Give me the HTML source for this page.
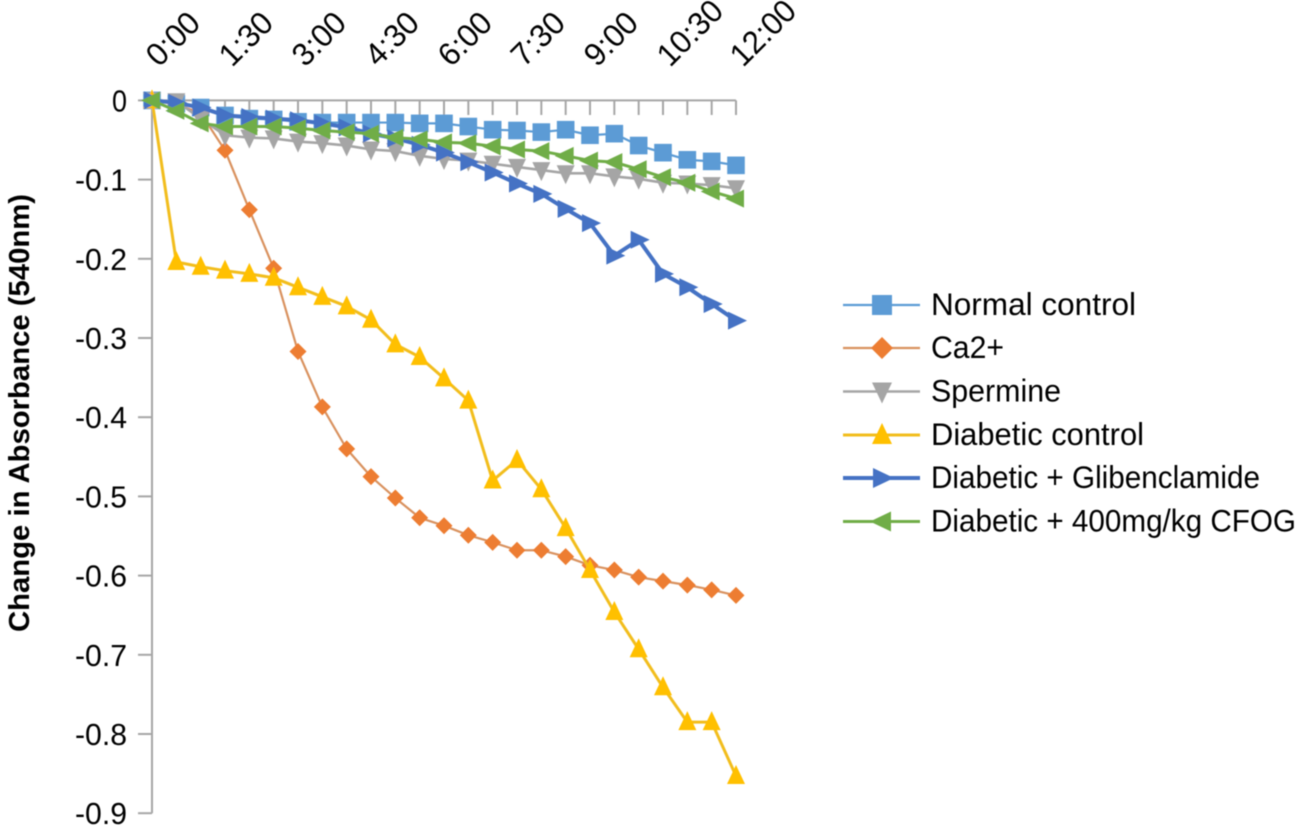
<!DOCTYPE html>
<html lang="en">
<head>
<meta charset="utf-8">
<title>Change in Absorbance chart</title>
<style>
html,body{margin:0;padding:0;background:#fff;width:1295px;height:827px;overflow:hidden}
svg{display:block;font-family:"Liberation Sans",sans-serif}
</style>
</head>
<body>
<svg id="chart" xmlns="http://www.w3.org/2000/svg" width="1295" height="827" viewBox="0 0 1295 827">
  <defs><filter id="soft" x="-5%" y="-5%" width="110%" height="110%"><feGaussianBlur stdDeviation="0.45"/></filter></defs>
  <rect x="0" y="0" width="1295" height="827" fill="#ffffff"/>
  <g id="root" filter="url(#soft)">
    <text transform="translate(29,413) rotate(-90)" text-anchor="middle" font-size="29" font-weight="bold" fill="#000" textLength="438" lengthAdjust="spacingAndGlyphs">Change in Absorbance (540nm)</text>
  </g>
</svg>
<script>
const categories = ["0:00","0:30","1:00","1:30","2:00","2:30","3:00","3:30","4:00","4:30","5:00","5:30","6:00","6:30","7:00","7:30","8:00","8:30","9:00","9:30","10:00","10:30","11:00","11:30","12:00"];
const xTickLabels = ["0:00","1:30","3:00","4:30","6:00","7:30","9:00","10:30","12:00"];
const yTickValues = [0,-0.1,-0.2,-0.3,-0.4,-0.5,-0.6,-0.7,-0.8,-0.9];
const yTickLabels = ["0","-0.1","-0.2","-0.3","-0.4","-0.5","-0.6","-0.7","-0.8","-0.9"];
const normalControl = [0,-0.004,-0.009,-0.019,-0.023,-0.024,-0.027,-0.028,-0.028,-0.028,-0.028,-0.029,-0.029,-0.033,-0.037,-0.038,-0.04,-0.037,-0.044,-0.042,-0.057,-0.066,-0.075,-0.077,-0.082];
const ca2 = [0,-0.005,-0.016,-0.063,-0.138,-0.212,-0.317,-0.387,-0.44,-0.475,-0.502,-0.527,-0.537,-0.549,-0.558,-0.568,-0.568,-0.576,-0.587,-0.593,-0.602,-0.607,-0.612,-0.618,-0.625];
const spermine = [0,-0.001,-0.023,-0.044,-0.047,-0.048,-0.052,-0.054,-0.057,-0.062,-0.064,-0.07,-0.074,-0.076,-0.08,-0.084,-0.088,-0.092,-0.092,-0.096,-0.099,-0.104,-0.105,-0.107,-0.111];
const diabeticControl = [0,-0.204,-0.21,-0.215,-0.219,-0.224,-0.236,-0.248,-0.26,-0.277,-0.308,-0.324,-0.351,-0.379,-0.48,-0.454,-0.491,-0.54,-0.593,-0.646,-0.693,-0.741,-0.785,-0.785,-0.853];
const glibenclamide = [0,-0.003,-0.009,-0.019,-0.021,-0.023,-0.025,-0.029,-0.034,-0.042,-0.048,-0.056,-0.066,-0.078,-0.091,-0.105,-0.118,-0.137,-0.155,-0.196,-0.176,-0.219,-0.236,-0.257,-0.278];
const cfog = [0,-0.013,-0.029,-0.033,-0.033,-0.033,-0.035,-0.038,-0.04,-0.042,-0.047,-0.049,-0.053,-0.054,-0.058,-0.062,-0.064,-0.07,-0.076,-0.078,-0.087,-0.097,-0.104,-0.115,-0.124];
const seriesNames = ["Normal control","Ca2+","Spermine","Diabetic control","Diabetic + Glibenclamide","Diabetic + 400mg/kg CFOG"];

const NS = "http://www.w3.org/2000/svg";
const root = document.getElementById("root");
const plot = {left:152, right:736, top:100.4, perUnit:792};
function xScale(i){ return plot.left + i*(plot.right-plot.left)/(categories.length-1); }
function yScale(v){ return plot.top - v*plot.perUnit; }
function make(tag, attrs, parent){
  const el = document.createElementNS(NS, tag);
  for (const k in attrs) el.setAttribute(k, attrs[k]);
  (parent||root).appendChild(el);
  return el;
}
const axisColor = "#a6a6a6";
const axisBottom = yScale(yTickValues[yTickValues.length-1]);

const yAxis = make("line",{x1:plot.left,y1:plot.top,x2:plot.left,y2:axisBottom,stroke:axisColor,"stroke-width":2});


const xAxis = make("line",{x1:plot.left,y1:plot.top,x2:plot.right,y2:plot.top,stroke:axisColor,"stroke-width":2});



yTickValues.forEach(function(v,i){
  const y = yScale(v);
  const t = make("line",{x1:138,y1:y,x2:plot.left,y2:y,stroke:axisColor,"stroke-width":2});
  
  
  const w = yTickLabels[i].length > 1 ? 52 : 15;
  const lab = make("text",{x:127-w,y:y+11,"font-size":30.5,fill:"#000",textLength:w,lengthAdjust:"spacingAndGlyphs"});
  
  
  lab.textContent = yTickLabels[i];
});

categories.forEach(function(c,i){
  const x = xScale(i);
  const t = make("line",{x1:x,y1:plot.top,x2:x,y2:115,stroke:axisColor,"stroke-width":2});
  
  
  if (xTickLabels.indexOf(c) >= 0){
    const w = c.length > 4 ? 78 : 61;
    const lab = make("text",{transform:"translate("+(x+7)+",68) rotate(-45)","font-size":32,fill:"#000",textLength:w,lengthAdjust:"spacingAndGlyphs"});
    
    
    lab.textContent = c;
  }
});

function marker(shape, cx, cy, color, parent, r){
  let pts;
  if (shape === "square") return make("rect",{x:cx-r,y:cy-r,width:2*r,height:2*r,fill:color},parent);
  if (shape === "diamond") pts = [[0,-r-1],[r+1,0],[0,r+1],[-r-1,0]];
  if (shape === "down") pts = [[-r,-r+1],[r,-r+1],[0,r+2]];
  if (shape === "up") pts = [[-r,r-1],[r,r-1],[0,-r-2]];
  if (shape === "right") pts = [[-r+1,-r],[-r+1,r],[r+2,0]];
  if (shape === "left") pts = [[r-1,-r],[r-1,r],[-r-2,0]];
  return make("polygon",{points:pts.map(function(p){return (cx+p[0])+","+(cy+p[1]);}).join(" "),fill:color},parent);
}

const styles = [
  {values:normalControl, shape:"square", mark:"#5b9bd5", line:"#5b9bd5", width:2.2, r:8.8, key:"normal-control"},
  {values:ca2, shape:"diamond", mark:"#ed7d31", line:"#d9925f", width:2.2, r:7.5, key:"ca2"},
  {values:spermine, shape:"down", mark:"#a5a5a5", line:"#a5a5a5", width:2.6, r:9, key:"spermine"},
  {values:diabeticControl, shape:"up", mark:"#ffc000", line:"#f2bd1d", width:3, r:9, key:"diabetic-control"},
  {values:glibenclamide, shape:"right", mark:"#4472c4", line:"#4472c4", width:4, r:9, key:"diabetic-glibenclamide"},
  {values:cfog, shape:"left", mark:"#70ad47", line:"#70ad47", width:3, r:9, key:"diabetic-cfog"}
];

styles.forEach(function(s){
  const g = make("g",{});
  
  
  const pts = s.values.map(function(v,i){return xScale(i)+","+yScale(v);}).join(" ");
  const ln = make("polyline",{points:pts,fill:"none",stroke:s.line,"stroke-width":s.width,"stroke-linejoin":"round"},g);
  
  
  s.values.forEach(function(v,i){
    const m = marker(s.shape, xScale(i), yScale(v), s.mark, g, s.r);
    
    
  });
});

const legendY = [305,348,391.5,435,478,521.5];
const legendWidths = [205,73,130,213,329,365];
const legend = make("g",{});


styles.forEach(function(s,i){
  const g = make("g",{},legend);
  
  
  const ln = make("line",{x1:843,y1:legendY[i],x2:920,y2:legendY[i],stroke:s.line,"stroke-width":s.width},g);
  
  
  const m = marker(s.shape, 882, legendY[i], s.mark, g, 10);
  
  
  const t = make("text",{x:931,y:legendY[i]+10,"font-size":31.5,fill:"#000",textLength:legendWidths[i],lengthAdjust:"spacingAndGlyphs"},g);
  
  
  t.textContent = seriesNames[i];
});
</script>
</body>
</html>
